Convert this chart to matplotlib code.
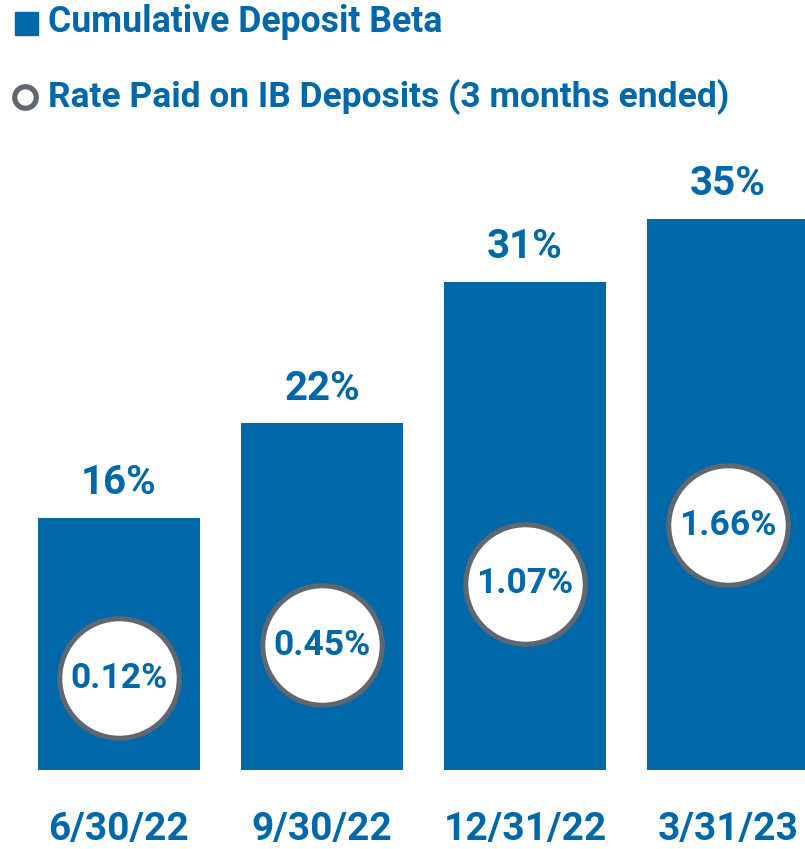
import matplotlib
matplotlib.use("Agg")
import matplotlib.pyplot as plt
from matplotlib.lines import Line2D

categories = ["6/30/22", "9/30/22", "12/31/22", "3/31/23"]
beta = [16, 22, 31, 35]
rate = [0.12, 0.45, 1.07, 1.66]
beta_labels = ["16%", "22%", "31%", "35%"]
rate_labels = ["0.12%", "0.45%", "1.07%", "1.66%"]

BLUE = "#0068A8"
GRAY = "#5F6770"
FONT = ["Roboto", "DejaVu Sans"]

W, H = 805, 849
fig = plt.figure(figsize=(W / 100, H / 100), dpi=100)
ax = fig.add_axes([0, 0, 1, 1])
ax.axis("off")

# pixel mapping: bar center px = 119 + 203*i ; y=0 at px 770, 15.75 px per unit
ax.set_xlim(-119 / 203, (W - 119) / 203)
ax.set_ylim(-(H - 770) / 15.75, 770 / 15.75)

x = list(range(len(categories)))
ax.bar(x, beta, width=0.8, color=BLUE, zorder=1)

for xi, b, lab in zip(x, beta, beta_labels):
    ax.text(xi, b + 2.2, lab, ha="center", va="center", color=BLUE,
            fontsize=29, fontweight="bold", family=FONT)

# rate axis
ax2 = ax.twinx()
ax2.axis("off")
y0, y1 = ax.get_ylim()
a, k = 5.08, 6.31
ax2.set_ylim((y0 - a) / k, (y1 - a) / k)
ax2.set_xlim(ax.get_xlim())
ax2.scatter(x, rate, s=86 ** 2, facecolor="white", edgecolor=GRAY,
            linewidth=3.6, zorder=3)
for xi, r, lab in zip(x, rate, rate_labels):
    ax2.text(xi, r, lab, ha="center", va="center", color=BLUE,
             fontsize=25.5, fontweight="bold", family=FONT, zorder=4)

for xi, c in zip(x, categories):
    ax.text(xi, -(830 - 770) / 15.75, c, ha="center", va="center", color=BLUE,
            fontsize=28, fontweight="bold", family=FONT)

# legend
fig.patches.append(plt.Rectangle((15 / W, 1 - 35 / H), 23 / W, 23 / H,
                                 transform=fig.transFigure, color=BLUE))
fig.text(48 / W, 1 - 22 / H, "Cumulative Deposit Beta", ha="left", va="center",
         color=BLUE, fontsize=25.7, fontweight="bold", family=FONT)
fig.lines.append(Line2D([25 / W], [1 - 97 / H], marker="o", markersize=15.5,
                        markerfacecolor="white", markeredgecolor=GRAY,
                        markeredgewidth=3.8, transform=fig.transFigure))
fig.text(48 / W, 1 - 97 / H, "Rate Paid on IB Deposits (3 months ended)",
         ha="left", va="center", color=BLUE, fontsize=25.5, fontweight="bold",
         family=FONT)

fig.savefig("out.png", dpi=100)
